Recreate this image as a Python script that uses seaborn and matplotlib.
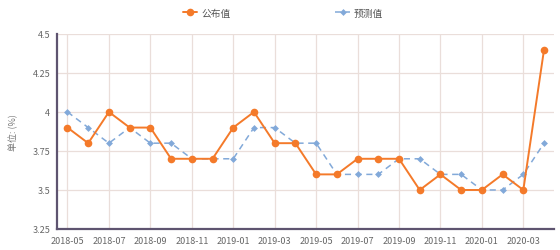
import matplotlib
matplotlib.use("Agg")
import matplotlib.pyplot as plt
import seaborn as sns
import pandas as pd
import numpy as np

months = ["2018-05", "2018-06", "2018-07", "2018-08", "2018-09", "2018-10", "2018-11", "2018-12",
          "2019-01", "2019-02", "2019-03", "2019-04", "2019-05", "2019-06", "2019-07", "2019-08",
          "2019-09", "2019-10", "2019-11", "2019-12", "2020-01", "2020-02", "2020-03", "2020-04"]
published = [3.9, 3.8, 4.0, 3.9, 3.9, 3.7, 3.7, 3.7,
             3.9, 4.0, 3.8, 3.8, 3.6, 3.6, 3.7, 3.7,
             3.7, 3.5, 3.6, 3.5, 3.5, 3.6, 3.5, 4.4]
forecast = [4.0, 3.9, 3.8, 3.9, 3.8, 3.8, 3.7, 3.7,
            3.7, 3.9, 3.9, 3.8, 3.8, 3.6, 3.6, 3.6,
            3.7, 3.7, 3.6, 3.6, 3.5, 3.5, 3.6, 3.8]
yticks = [3.25, 3.5, 3.75, 4.0, 4.25, 4.5]
ytick_labels = ["3.25", "3.5", "3.75", "4", "4.25", "4.5"]
series_names = ["公布值", "预测值"]

sns.set_theme(style="white")
plt.rcParams['font.family'] = ['Noto Sans CJK SC', 'DejaVu Sans']

df = pd.DataFrame({"pos": np.arange(len(months)), "published": published, "forecast": forecast})

fig = plt.figure(figsize=(5.6, 2.51), dpi=100)
ax = fig.add_axes([0.102, 0.0837, 0.888, 0.777])

orange = "#F47A2A"
blue = "#82A9D9"
sns.lineplot(data=df, x="pos", y="forecast", ax=ax, color=blue, linestyle=(0, (4, 3)),
             linewidth=1.1, marker="D", markersize=3.5, markeredgewidth=0, label=series_names[1], zorder=3)
sns.lineplot(data=df, x="pos", y="published", ax=ax, color=orange, linewidth=1.4,
             marker="o", markersize=5.5, markeredgewidth=0, label=series_names[0], zorder=4)

ax.set_xlim(-0.5, 23.5)
ax.set_ylim(3.25, 4.5)
ax.set_yticks(yticks)
ax.set_yticklabels(ytick_labels)
tick_pos = list(range(0, len(months), 2))
ax.set_xticks(tick_pos)
ax.set_xticklabels([months[i] for i in tick_pos])
ax.tick_params(axis="both", length=0, labelsize=6.5, colors="#666666", pad=5)
ax.grid(True, color="#EADEDA", linewidth=0.9)
ax.set_axisbelow(True)
for s in ["top", "right"]:
    ax.spines[s].set_visible(False)
for s in ["left", "bottom"]:
    ax.spines[s].set_color("#5E5470")
    ax.spines[s].set_linewidth(1.6)
ax.set_xlabel("")
ax.set_ylabel("单位: (%)", fontsize=6.5, color="#777777", labelpad=10)

handles, labels = ax.get_legend_handles_labels()
ax.get_legend().remove()
order = [labels.index(series_names[0]), labels.index(series_names[1])]
fig.legend([handles[i] for i in order], [labels[i] for i in order], loc="upper center",
           bbox_to_anchor=(0.505, 1.0), ncol=2, frameon=False, fontsize=7,
           columnspacing=10.8, handlelength=1.5, handletextpad=0.4, labelcolor="#555555")

fig.savefig("out.png", dpi=100)
